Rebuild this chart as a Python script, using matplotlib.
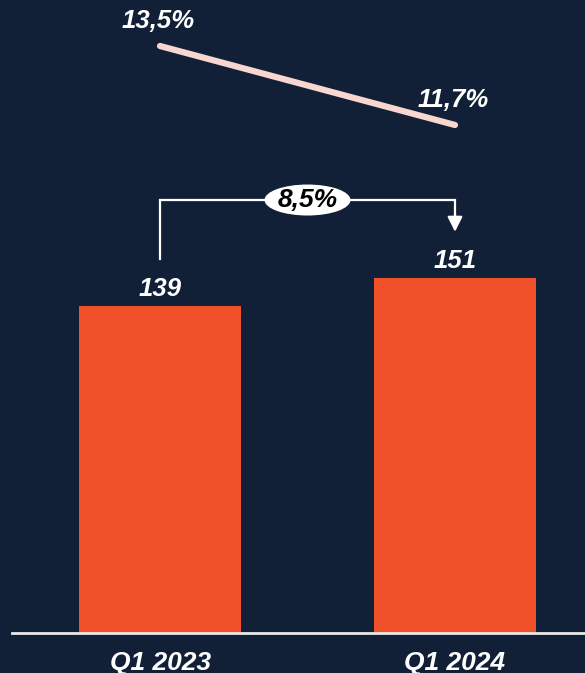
import numpy as np
import matplotlib.pyplot as plt
from matplotlib.patches import Ellipse

# Data
quarters = ['Q1 2023', 'Q1 2024']
revenue = [139, 151]
margin = [13.5, 11.7]
growth_label = '8,5%'

# Colours
BG = '#112036'
BAR = '#F0512B'
LINE = '#F9D6CF'
FONT = 'Liberation Sans'

fig = plt.figure(figsize=(5.85, 6.73), dpi=100, facecolor=BG)
ax = fig.add_axes([0, 0, 1, 1], facecolor=BG)
x = np.arange(len(quarters))

ax.bar(x, revenue, width=0.5525, color=BAR, zorder=2)
ax.set_xlim(-0.5424, 1.4407)
ax.set_ylim(-17.0, 269.0)
ax.axis('off')

# baseline
ax.axhline(0, xmin=12 / 585, xmax=1, color='#e8e8e8', lw=2, zorder=3)

txt = dict(family=FONT, fontweight='bold', style='italic', color='white')

for xi, v in zip(x, revenue):
    ax.text(xi, v + 4, str(v), ha='center', va='baseline', fontsize=18.5, **txt)

for xi, q in zip(x, quarters):
    ax.text(xi, -7.6, q, ha='center', va='top', fontsize=19, **txt)

# growth bracket between the bars
top = max(revenue) + 33
ax.plot([x[0], x[0], x[1], x[1]],
        [revenue[0] + 20, top, top, revenue[1] + 26],
        color='white', lw=1.6, zorder=3, solid_joinstyle='miter')
ax.annotate('', xy=(x[1], revenue[1] + 19.5), xytext=(x[1], revenue[1] + 27),
            arrowprops=dict(arrowstyle='-|>,head_width=0.45,head_length=0.9',
                            color='white', lw=1.6, shrinkA=0, shrinkB=0))
ax.add_patch(Ellipse((np.mean(x), top), width=86 / 295, height=31 / 2.353,
                     facecolor='white', edgecolor='none', zorder=4))
ax.text(np.mean(x), top, growth_label, ha='center', va='center',
        fontsize=19, zorder=5, family=FONT, fontweight='bold',
        style='italic', color='black')

# margin line on its own scale
ax2 = ax.twinx()
ax2.set_ylim(-0.786, 14.548)
ax2.axis('off')
ax2.plot(x, margin, color=LINE, lw=4.5, solid_capstyle='round')
for xi, m in zip(x, margin):
    ax2.annotate(f'{m:.1f}%'.replace('.', ','), (xi, m), xytext=(-1.5, 18),
                 textcoords='offset points', ha='center', va='center',
                 fontsize=18.5, **txt)

fig.savefig('out.png', dpi=100, facecolor=BG)
